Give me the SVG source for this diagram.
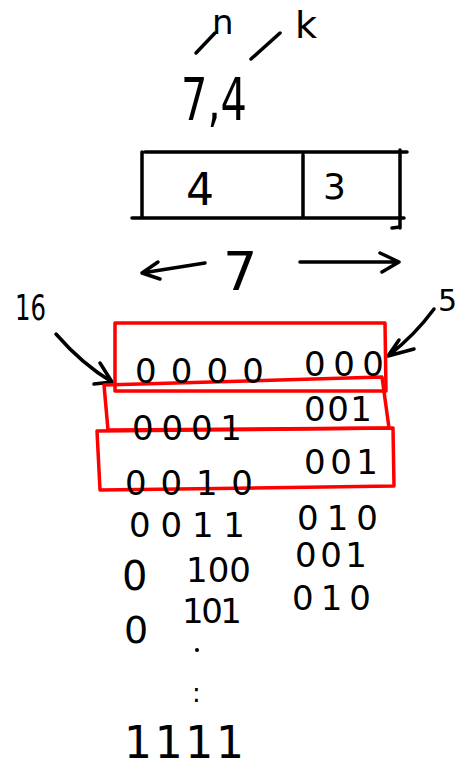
<svg xmlns="http://www.w3.org/2000/svg" width="465" height="772" viewBox="0 0 465 772">
<defs>
<style>
.ink{fill:none;stroke:#000;stroke-width:3.5;stroke-linecap:round;stroke-linejoin:round}
.red{fill:none;stroke:#f00;stroke-width:3.5;stroke-linejoin:round}
.t{font-family:"DejaVu Sans","Liberation Sans",sans-serif;fill:#000}
.d{font-size:34px}
</style>
</defs>
<rect width="465" height="772" fill="#fff"/>
<g id="header">
<text class="t" x="212" y="34" font-size="34">n</text>
<text class="t" x="295" y="38" font-size="38">k</text>
<path class="ink" d="M196 53 L215 33"/>
<path class="ink" d="M251 59 L280 33"/>
<text class="t" x="181" y="120" font-size="58" textLength="66" lengthAdjust="spacingAndGlyphs">7,4</text>
</g>
<g id="box">
<path class="ink" d="M145 152 L407 152 M132 218 L404 218 M142 152 L142 218 M303 155 L303 217 M400 150 L400 228 M392 228 L400 227"/>
<text class="t" x="186" y="205" font-size="44">4</text>
<text class="t" x="323" y="199" font-size="36">3</text>
</g>
<g id="width">
<path class="ink" d="M205 263 L142 273 M158 262 L142 273 L160 279"/>
<text class="t" x="223" y="290" font-size="54">7</text>
<path class="ink" d="M300 262 L399 262 M380 253 L399 262 L382 272"/>
</g>
<g id="connectors">
<path class="ink" d="M56 334 Q82 364 112 382 M100 363 L112 382 L94 384"/>
<path class="ink" d="M434 309 Q415 335 388 356 M414 349 L388 356 L399 340"/>
</g>
<g id="labels">
<text class="t" x="15" y="320" font-size="36" textLength="31" lengthAdjust="spacingAndGlyphs">16</text>
<text class="t" x="438" y="311" font-size="30">5</text>
</g>
<g id="highlights">
<path class="red" d="M115 323 L385 323 L386 391 L115 391 Z"/>
<path class="red" d="M104 385 L382 377 L389 428 L108 430 Z"/>
<path class="red" d="M97 431 L393 428 L394 486 L100 490 Z"/>
</g>
<g id="rows">
<text class="t d" x="135" y="383" textLength="129" lengthAdjust="spacing">0000</text>
<text class="t d" x="304" y="376" textLength="80" lengthAdjust="spacing">000</text>
<text class="t d" x="132" y="440" textLength="110" lengthAdjust="spacing">0001</text>
<text class="t d" x="304" y="421" textLength="68" lengthAdjust="spacing">001</text>
<text class="t d" x="125" y="495" textLength="128" lengthAdjust="spacing">0010</text>
<text class="t d" x="304" y="474" textLength="74" lengthAdjust="spacing">001</text>
<text class="t d" x="129" y="537" textLength="116" lengthAdjust="spacing">0011</text>
<text class="t d" x="297" y="530" textLength="81" lengthAdjust="spacing">010</text>
<text class="t" x="122" y="590" font-size="40">0</text>
<text class="t d" x="186" y="582" textLength="65" lengthAdjust="spacing">100</text>
<text class="t d" x="295" y="567" textLength="72" lengthAdjust="spacing">001</text>
<text class="t" x="124" y="643" font-size="38">0</text>
<text class="t d" x="182" y="623" textLength="60" lengthAdjust="spacing">101</text>
<text class="t d" x="292" y="610" textLength="79" lengthAdjust="spacing">010</text>
<circle cx="197" cy="650" r="2" fill="#000"/>
<text class="t" x="192" y="702" font-size="26">:</text>
<text class="t" x="124" y="758" font-size="44" textLength="120" lengthAdjust="spacing">1111</text>
</g>
</svg>
